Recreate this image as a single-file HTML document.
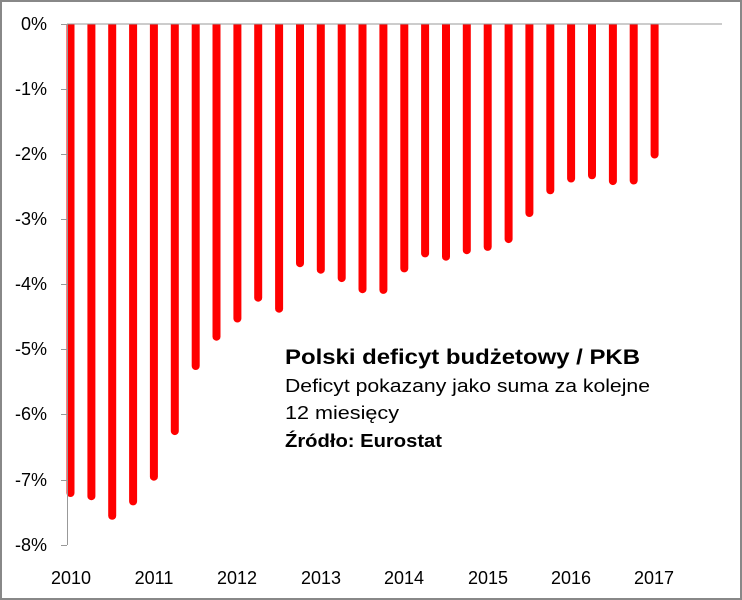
<!DOCTYPE html>
<html><head><meta charset="utf-8"><style>
html,body{margin:0;padding:0;background:#fff}
svg{display:block}
text{font-family:"Liberation Sans",sans-serif;fill:#000}
</style></head><body>
<svg width="742" height="600" viewBox="0 0 742 600" xmlns="http://www.w3.org/2000/svg">
<rect x="1" y="1" width="740" height="598" fill="#fff" stroke="#888" stroke-width="2"/>
<defs><clipPath id="c"><rect x="0" y="24" width="742" height="560"/></clipPath></defs>
<g fill="#ff0000" clip-path="url(#c)">
<rect x="66.5" y="20" width="8" height="477" rx="4"/>
<rect x="87.4" y="20" width="8" height="480.2" rx="4"/>
<rect x="108.2" y="20" width="8" height="499.8" rx="4"/>
<rect x="129.1" y="20" width="8" height="485.4" rx="4"/>
<rect x="149.9" y="20" width="8" height="460.7" rx="4"/>
<rect x="170.8" y="20" width="8" height="415.1" rx="4"/>
<rect x="191.7" y="20" width="8" height="350" rx="4"/>
<rect x="212.5" y="20" width="8" height="320.7" rx="4"/>
<rect x="233.4" y="20" width="8" height="302.5" rx="4"/>
<rect x="254.2" y="20" width="8" height="281.7" rx="4"/>
<rect x="275.1" y="20" width="8" height="292.7" rx="4"/>
<rect x="296.0" y="20" width="8" height="247.2" rx="4"/>
<rect x="316.8" y="20" width="8" height="253.7" rx="4"/>
<rect x="337.7" y="20" width="8" height="262.1" rx="4"/>
<rect x="358.5" y="20" width="8" height="273.2" rx="4"/>
<rect x="379.4" y="20" width="8" height="273.9" rx="4"/>
<rect x="400.3" y="20" width="8" height="252.4" rx="4"/>
<rect x="421.1" y="20" width="8" height="237.4" rx="4"/>
<rect x="442.0" y="20" width="8" height="240.7" rx="4"/>
<rect x="462.8" y="20" width="8" height="234.2" rx="4"/>
<rect x="483.7" y="20" width="8" height="230.9" rx="4"/>
<rect x="504.6" y="20" width="8" height="223.1" rx="4"/>
<rect x="525.4" y="20" width="8" height="197" rx="4"/>
<rect x="546.3" y="20" width="8" height="174.3" rx="4"/>
<rect x="567.1" y="20" width="8" height="162.5" rx="4"/>
<rect x="588.0" y="20" width="8" height="159.3" rx="4"/>
<rect x="608.9" y="20" width="8" height="165.1" rx="4"/>
<rect x="629.7" y="20" width="8" height="164.5" rx="4"/>
<rect x="650.6" y="20" width="8" height="138.5" rx="4"/>
</g>
<g stroke="#999" stroke-width="1">
<line x1="67" y1="24" x2="722" y2="24"/>
<line x1="67.5" y1="24" x2="67.5" y2="545"/>
<line x1="61" y1="24.5" x2="67" y2="24.5"/>
<line x1="61" y1="89.5" x2="67" y2="89.5"/>
<line x1="61" y1="154.5" x2="67" y2="154.5"/>
<line x1="61" y1="219.5" x2="67" y2="219.5"/>
<line x1="61" y1="284.5" x2="67" y2="284.5"/>
<line x1="61" y1="349.5" x2="67" y2="349.5"/>
<line x1="61" y1="414.5" x2="67" y2="414.5"/>
<line x1="61" y1="480.5" x2="67" y2="480.5"/>
<line x1="61" y1="545.5" x2="67" y2="545.5"/>
</g>
<g font-size="18" text-anchor="end">
<text x="47" y="30">0%</text>
<text x="47" y="95">-1%</text>
<text x="47" y="160">-2%</text>
<text x="47" y="225">-3%</text>
<text x="47" y="290">-4%</text>
<text x="47" y="355">-5%</text>
<text x="47" y="420">-6%</text>
<text x="47" y="486">-7%</text>
<text x="47" y="551">-8%</text>
</g>
<g font-size="18" text-anchor="middle">
<text x="71" y="584">2010</text>
<text x="154" y="584">2011</text>
<text x="237" y="584">2012</text>
<text x="321" y="584">2013</text>
<text x="404" y="584">2014</text>
<text x="488" y="584">2015</text>
<text x="571" y="584">2016</text>
<text x="654" y="584">2017</text>
</g>
<text x="285" y="364" font-size="21" font-weight="bold" textLength="355" lengthAdjust="spacingAndGlyphs">Polski deficyt budżetowy / PKB</text>
<text x="285" y="392" font-size="18" textLength="365" lengthAdjust="spacingAndGlyphs">Deficyt pokazany jako suma za kolejne</text>
<text x="285" y="419" font-size="18" textLength="114" lengthAdjust="spacingAndGlyphs">12 miesięcy</text>
<text x="285" y="447" font-size="18" font-weight="bold" textLength="157" lengthAdjust="spacingAndGlyphs">Źródło: Eurostat</text>
</svg>
</body></html>
